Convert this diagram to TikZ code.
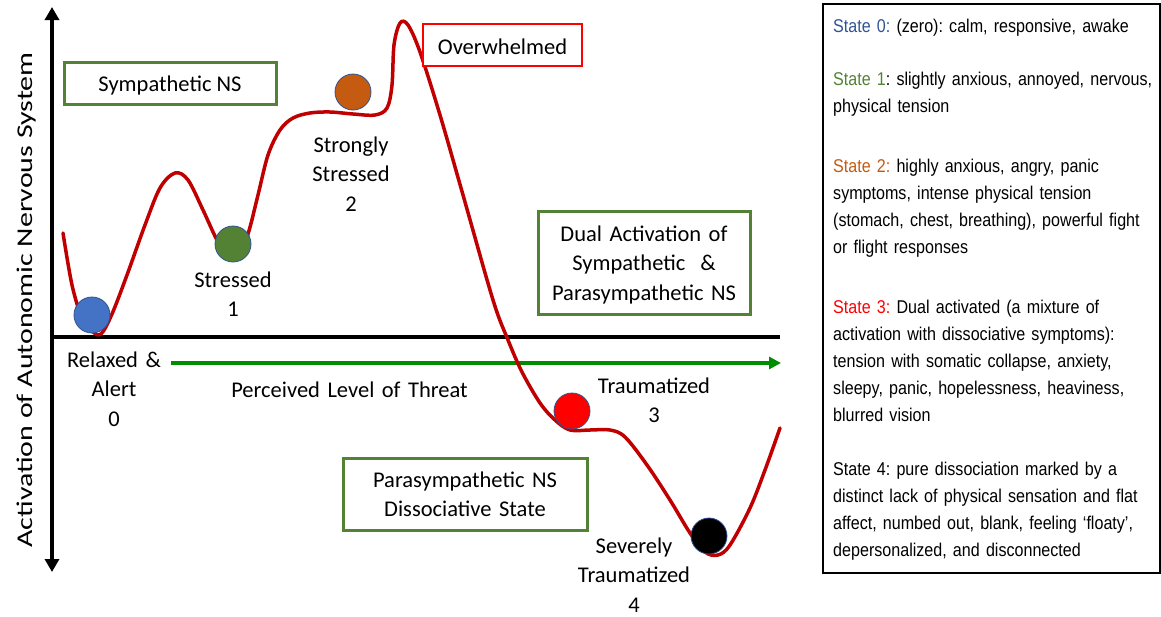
\documentclass[tikz,border=0pt]{standalone}
\usepackage{fontspec}
\setmainfont{Carlito}
\newfontfamily\narrowfont[FakeStretch=0.87]{Liberation Sans}
\usetikzlibrary{arrows.meta}

\definecolor{curvered}{RGB}{192,0,0}
\definecolor{boxgreen}{RGB}{84,130,53}
\definecolor{arrowgreen}{RGB}{0,140,0}
\definecolor{ballblue}{RGB}{68,114,196}
\definecolor{ballgreen}{RGB}{84,130,53}
\definecolor{ballorange}{RGB}{197,90,17}
\definecolor{ballred}{RGB}{255,0,0}
\definecolor{balledge}{RGB}{47,82,143}
\definecolor{txtblue}{RGB}{47,85,151}
\definecolor{txtgreen}{RGB}{84,130,53}
\definecolor{txtorange}{RGB}{197,90,17}
\definecolor{txtred}{RGB}{255,0,0}

\tikzset{
  bigfont/.style={font=\fontsize{22.5}{29.5}\selectfont},
  lbl/.style={bigfont, align=center, text width=240pt, anchor=base, inner sep=0pt},
  gbox/.style={draw=boxgreen, line width=3pt, fill=white, bigfont, align=center,
    inner sep=0pt, text height=16pt},
  rbox/.style={draw=red, line width=2.5pt, fill=white, bigfont, align=center,
    inner sep=0pt},
  ball/.style={circle, draw=balledge, line width=0.8pt, minimum size=36pt, inner sep=0pt},
  axis/.style={line width=4.5pt, black},
  curve/.style={draw=curvered, line width=3.5pt, line join=round, line cap=round},
  para/.style={font=\narrowfont\fontsize{18.5}{27}\selectfont, align=left,
    text width=345pt, anchor=base west, inner sep=0pt},
}

\begin{document}
\frenchspacing
\begin{tikzpicture}[x=1pt,y=-1pt]
\useasboundingbox (0,0) rectangle (1161,616);

% axes
\coordinate (ytop) at (52,7);
\coordinate (ybot) at (52,572);
\coordinate (xstart) at (50,337);
\coordinate (xend) at (780,337);
\draw[axis, {Triangle[length=13pt,width=14pt]}-{Triangle[length=13pt,width=14pt]}] (ybot) -- (ytop);
\draw[axis] (xstart) -- (xend);

% threat arrow
\coordinate (tstart) at (171,363);
\coordinate (tend) at (781,363);
\draw[arrowgreen, line width=3.5pt, -{Triangle[length=12pt,width=12pt]}] (tstart) -- (tend);

% energy landscape
\draw[curve] plot[smooth, tension=0.55] coordinates {
  (63,233) (72,285) (82,318) (92,331) (101,334) (112,314) (127,275) (145,225)
  (160,188) (175,173) (188,180) (203,210) (217,240) (228,255) (238,256) (248,234)
  (258,195) (268,155) (280,130) (293,118) (310,113) (330,112) (353,114) (375,115)
  (387,108) (392,85) (394,45) (400,23) (408,25) (420,52) (440,115) (463,195)
  (493,300) (508,340) (522,372) (540,403) (555,420) (570,430) (590,430) (610,430)
  (625,437) (647,465) (670,500) (690,533) (705,552) (718,555) (730,545) (750,508)
  (765,470) (780,428)};

% balls
\node[ball, fill=ballblue] (b0) at (92,315) {};
\node[ball, fill=ballgreen] (b1) at (233,244) {};
\node[ball, fill=ballorange] (b2) at (353,92) {};
\node[ball, fill=ballred] (b3) at (572,411) {};
\node[ball, fill=black] (b4) at (709,536) {};

% boxes
\node[gbox, minimum width=212pt, minimum height=42pt, text depth=0pt] (symp) at (170,83) {Sympathetic NS};
\node[rbox, minimum width=159pt, minimum height=42pt, text height=18pt, text depth=0pt] (over) at (502.5,45) {Overwhelmed};
\node[gbox, minimum width=212pt, minimum height=103pt, text width=205pt, text depth=59pt] (dual) at (644,262.5)
  {Dual Activation of\\ Sympathetic\ \ \&\\ Parasympathetic NS};
\node[gbox, minimum width=244pt, minimum height=72pt, text width=235pt, text depth=29.5pt] (para) at (465,494)
  {Parasympathetic NS\\ Dissociative State};

% state labels
\node[lbl] (l0) at (114,367) {Relaxed \&\\ Alert\\ 0};
\node[lbl] (l1) at (233,287) {Stressed\\ 1};
\node[lbl] (l2) at (351,152) {Strongly\\ Stressed\\ 2};
\node[lbl] (l3) at (654,393) {Traumatized\\ 3};
\node[lbl] (l4) at (634,553) {Severely\\ Traumatized\\ 4};
\node[lbl] (threat) at (349.5,397) {Perceived Level of Threat};

% vertical axis title (set wide)
\node[bigfont, rotate=90, anchor=base, inner sep=0pt] (ylabel) at (32,300)
  {\scalebox{1.33}[1]{Activation of Autonomic Nervous System}};

% legend
\node[draw=black, line width=1.5pt, minimum width=337pt, minimum height=569pt, inner sep=0pt] (legend) at (991.5,288.5) {};
\node[para] (s0) at (833,32) {\textcolor{txtblue}{State 0:} (zero): calm, responsive, awake};
\node[para] (s1) at (833,85) {\textcolor{txtgreen}{State 1}: slightly anxious, annoyed, nervous,\\ physical tension};
\node[para] (s2) at (833,172) {\textcolor{txtorange}{State 2:} highly anxious, angry, panic\\ symptoms, intense physical tension\\ (stomach, chest, breathing), powerful fight\\ or flight responses};
\node[para] (s3) at (833,313) {\textcolor{txtred}{State 3:} Dual activated (a mixture of\\ activation with dissociative symptoms):\\ tension with somatic collapse, anxiety,\\ sleepy, panic, hopelessness, heaviness,\\ blurred vision};
\node[para] (s4) at (833,475) {State 4: pure dissociation marked by a\\ distinct lack of physical sensation and flat\\ affect, numbed out, blank, feeling ‘floaty’,\\ depersonalized, and disconnected};

\end{tikzpicture}
\end{document}
